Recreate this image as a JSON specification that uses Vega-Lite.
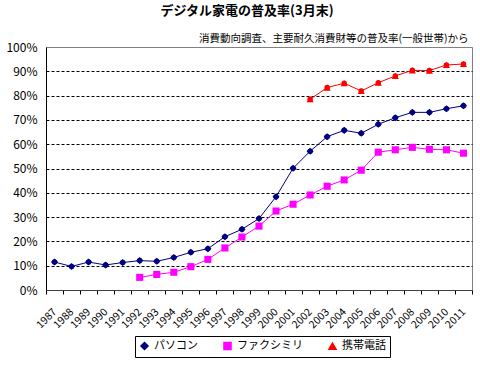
{
  "$schema": "https://vega.github.io/schema/vega-lite/v6.json",
  "autosize": "none",
  "width": 426,
  "height": 243,
  "padding": {"left": 46, "top": 47, "right": 8, "bottom": 76},
  "background": "white",
  "title": {
    "text": "デジタル家電の普及率(3月末)",
    "font": "Noto Sans CJK JP",
    "fontSize": 13,
    "fontWeight": "bold",
    "anchor": "middle",
    "offset": 15,
    "dx": -12,
    "color": "black"
  },
  "config": {
    "view": {"stroke": "#808080", "strokeWidth": 1},
    "font": "Noto Sans CJK JP",
    "axis": {"labelFont": "Noto Sans CJK JP", "labelColor": "black"}
  },
  "data": {
    "values": [
      {"year": "1987", "series": "パソコン", "value": 11.5},
      {"year": "1988", "series": "パソコン", "value": 9.7},
      {"year": "1989", "series": "パソコン", "value": 11.5},
      {"year": "1990", "series": "パソコン", "value": 10.3},
      {"year": "1991", "series": "パソコン", "value": 11.3},
      {"year": "1992", "series": "パソコン", "value": 12.1},
      {"year": "1993", "series": "パソコン", "value": 11.8},
      {"year": "1994", "series": "パソコン", "value": 13.4},
      {"year": "1995", "series": "パソコン", "value": 15.5},
      {"year": "1996", "series": "パソコン", "value": 17.0},
      {"year": "1997", "series": "パソコン", "value": 21.9},
      {"year": "1998", "series": "パソコン", "value": 25.0},
      {"year": "1999", "series": "パソコン", "value": 29.4},
      {"year": "2000", "series": "パソコン", "value": 38.4},
      {"year": "2001", "series": "パソコン", "value": 50.1},
      {"year": "2002", "series": "パソコン", "value": 57.1},
      {"year": "2003", "series": "パソコン", "value": 63.1},
      {"year": "2004", "series": "パソコン", "value": 65.7},
      {"year": "2005", "series": "パソコン", "value": 64.5},
      {"year": "2006", "series": "パソコン", "value": 68.2},
      {"year": "2007", "series": "パソコン", "value": 70.9},
      {"year": "2008", "series": "パソコン", "value": 73.1},
      {"year": "2009", "series": "パソコン", "value": 73.1},
      {"year": "2010", "series": "パソコン", "value": 74.6},
      {"year": "2011", "series": "パソコン", "value": 75.8},
      {"year": "1992", "series": "ファクシミリ", "value": 5.2},
      {"year": "1993", "series": "ファクシミリ", "value": 6.4},
      {"year": "1994", "series": "ファクシミリ", "value": 7.3},
      {"year": "1995", "series": "ファクシミリ", "value": 9.6},
      {"year": "1996", "series": "ファクシミリ", "value": 12.6},
      {"year": "1997", "series": "ファクシミリ", "value": 17.3},
      {"year": "1998", "series": "ファクシミリ", "value": 21.8},
      {"year": "1999", "series": "ファクシミリ", "value": 26.3},
      {"year": "2000", "series": "ファクシミリ", "value": 32.5},
      {"year": "2001", "series": "ファクシミリ", "value": 35.3},
      {"year": "2002", "series": "ファクシミリ", "value": 39.1},
      {"year": "2003", "series": "ファクシミリ", "value": 42.7},
      {"year": "2004", "series": "ファクシミリ", "value": 45.3},
      {"year": "2005", "series": "ファクシミリ", "value": 49.3},
      {"year": "2006", "series": "ファクシミリ", "value": 56.7},
      {"year": "2007", "series": "ファクシミリ", "value": 57.7},
      {"year": "2008", "series": "ファクシミリ", "value": 58.7},
      {"year": "2009", "series": "ファクシミリ", "value": 57.9},
      {"year": "2010", "series": "ファクシミリ", "value": 57.7},
      {"year": "2011", "series": "ファクシミリ", "value": 56.3},
      {"year": "2002", "series": "携帯電話", "value": 78.5},
      {"year": "2003", "series": "携帯電話", "value": 83.3},
      {"year": "2004", "series": "携帯電話", "value": 85.1},
      {"year": "2005", "series": "携帯電話", "value": 81.9},
      {"year": "2006", "series": "携帯電話", "value": 85.3},
      {"year": "2007", "series": "携帯電話", "value": 88.1},
      {"year": "2008", "series": "携帯電話", "value": 90.4},
      {"year": "2009", "series": "携帯電話", "value": 90.3},
      {"year": "2010", "series": "携帯電話", "value": 92.6},
      {"year": "2011", "series": "携帯電話", "value": 93.0}
    ]
  },
  "encoding": {
    "x": {
      "field": "year",
      "type": "ordinal",
      "scale": {"type": "band", "paddingInner": 0, "paddingOuter": 0},
      "axis": {
        "title": null,
        "labelAngle": -45,
        "labelAlign": "right",
        "labelBaseline": "middle",
        "labelFontSize": 10.5,
        "labelPadding": 16,
        "labelDx": -2,
        "tickBand": "extent",
        "tickSize": 4,
        "tickColor": "black",
        "domainColor": "#404040",
        "grid": false
      }
    },
    "y": {
      "field": "value",
      "type": "quantitative",
      "scale": {"domain": [0, 100], "nice": false},
      "axis": {
        "title": "消費動向調査、主要耐久消費財等の普及率(一般世帯)から",
        "titleAngle": 0,
        "titleAlign": "right",
        "titleBaseline": "bottom",
        "titleX": 422,
        "titleY": -4,
        "titleFontWeight": "normal",
        "titleFontSize": 10.5,
        "titleFont": "Noto Sans CJK JP",
        "titleColor": "black",
        "values": [0, 10, 20, 30, 40, 50, 60, 70, 80, 90, 100],
        "labelExpr": "datum.value + '%'",
        "labelFontSize": 12,
        "labelPadding": 9,
        "ticks": false,
        "domainColor": "black",
        "grid": true,
        "gridDash": [3, 2],
        "gridColor": {"condition": {"test": "datum.value == 0 || datum.value == 100", "value": "transparent"}, "value": "black"}
      }
    },
    "color": {
      "field": "series",
      "type": "nominal",
      "scale": {"domain": ["パソコン", "ファクシミリ", "携帯電話"], "range": ["#000080", "#FF00FF", "#FF0000"]},
      "legend": {
        "title": null,
        "orient": "none",
        "legendX": 89,
        "legendY": 289,
        "direction": "horizontal",
        "strokeColor": "black",
        "padding": 4,
        "labelFontSize": 11,
        "labelFont": "Noto Sans CJK JP",
        "labelColor": "black",
        "columnPadding": 22,
        "symbolSize": 50
      }
    },
    "shape": {
      "field": "series",
      "type": "nominal",
      "scale": {"domain": ["パソコン", "ファクシミリ", "携帯電話"], "range": ["diamond", "square", "triangle-up"]},
      "legend": {
        "title": null,
        "orient": "none",
        "legendX": 89,
        "legendY": 289,
        "direction": "horizontal",
        "strokeColor": "black",
        "padding": 4,
        "labelFontSize": 11,
        "labelFont": "Noto Sans CJK JP",
        "labelColor": "black",
        "columnPadding": 22,
        "symbolSize": 50
      }
    }
  },
  "layer": [
    {"mark": {"type": "line", "strokeWidth": 1}, "encoding": {"shape": {"value": null}}},
    {"mark": {"type": "point", "filled": true, "opacity": 1, "size": 50}}
  ]
}
